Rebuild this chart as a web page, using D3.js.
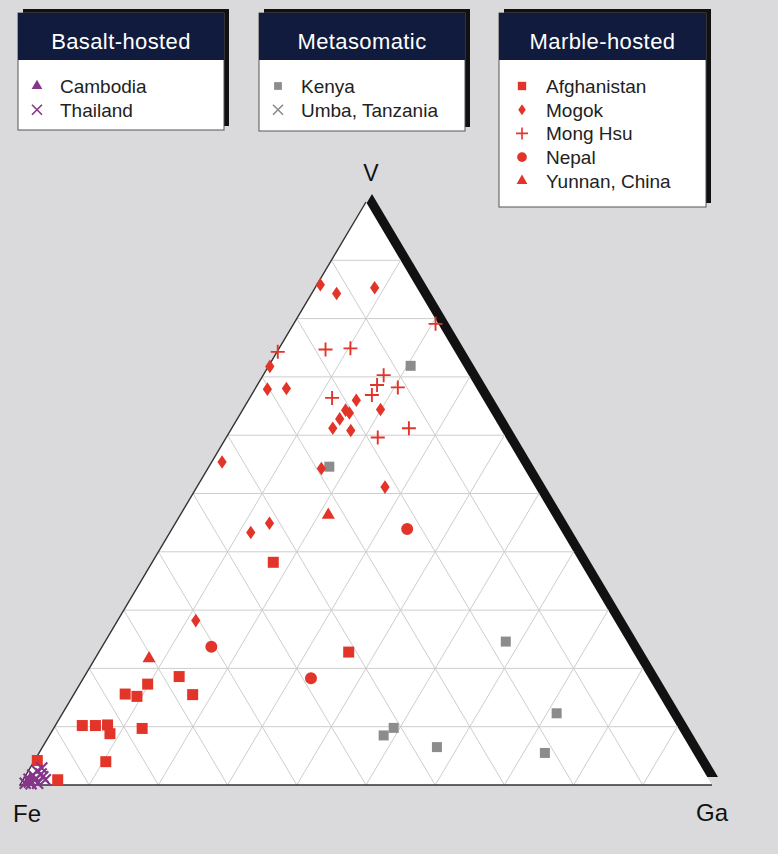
<!DOCTYPE html>
<html>
<head>
<meta charset="utf-8">
<script src="https://cdn.jsdelivr.net/npm/d3@7"></script>
<style>
html, body { margin: 0; padding: 0; background: #dadadc; }
svg { display: block; }
text { font-family: "Liberation Sans", Arial, Helvetica, sans-serif; }
</style>
</head>
<body>
<svg id="chart" width="778" height="854"></svg>
<script>
// ternary values, each point is [V %, Ga %]  (Fe % = 100 - V - Ga)
var cambodia = [[1.2, 0.9], [0.5, 0.8]];
var thailand = [[0.3, 0.6], [1.0, 0.8], [1.7, 1.0], [2.4, 1.3], [2.9, 1.7], [0.9, 3.2],
    [0.3, 2.4], [0.2, 1.5], [1.0, 1.7], [1.9, 2.1], [0.5, 1.1], [1.4, 2.6]];
var kenya = [[71.9, 20.5], [54.6, 17.4], [24.6, 57.9], [12.3, 71.4], [9.8, 49.1],
    [8.5, 48.3], [6.5, 57.0], [5.5, 73.1]];
var umba = [];
var afghanistan = [[38.2, 17.5], [22.8, 36.1], [18.6, 13.7], [17.3, 9.8], [15.6, 7.4],
    [15.2, 9.3], [15.5, 17.2], [10.2, 3.9], [10.2, 5.8], [10.3, 7.5], [8.8, 8.6],
    [9.7, 12.8], [4.0, 10.4], [4.2, 0.4], [0.9, 5.0]];
var mogok = [[85.8, 0.5], [84.3, 3.6], [85.3, 8.6], [71.8, 0.2], [67.9, 1.8], [68.0, 4.5],
    [66.0, 15.6], [64.3, 14.9], [63.8, 15.7], [62.8, 14.8], [64.4, 19.9], [61.2, 14.6],
    [60.8, 17.4], [55.4, 1.5], [54.3, 16.4], [51.1, 27.2], [44.9, 13.6], [43.3, 11.7],
    [28.2, 11.3]];
var mongHsu = [[79.1, 20.5], [74.3, 0.1], [74.7, 6.8], [74.9, 10.3], [70.3, 17.4],
    [68.6, 17.3], [68.2, 20.5], [66.9, 17.4], [66.4, 11.9], [61.2, 25.6], [59.6, 21.9]];
var nepal = [[43.9, 34.0], [23.7, 15.8], [18.3, 32.9]];
var yunnan = [[46.3, 21.4], [21.7, 7.8]];

var gridSteps = [10, 20, 30, 40, 50, 60, 70, 80, 90];
var groupTitles = ["Basalt-hosted", "Metasomatic", "Marble-hosted"];
var basaltNames = ["Cambodia", "Thailand"];
var metaNames = ["Kenya", "Umba, Tanzania"];
var marbleNames = ["Afghanistan", "Mogok", "Mong Hsu", "Nepal", "Yunnan, China"];

var RED = "#e3342a", GRAY = "#8c8c8c", PURPLE = "#85358a";

var svg = d3.select("#chart");

// triangle frame
var y = d3.scaleLinear().domain([0, 100]).range([785, 202]);
var x = d3.scaleLinear().domain([0, 100]).range([20, 712]);
function px(d) { return x(d[1] + d[0] / 2); }
function py(d) { return y(d[0]); }

var corners = [[0, 0], [0, 100], [100, 0]]; // Fe, Ga, V
var triPath = "M" + corners.map(function (d) { return px(d) + "," + py(d); }).join("L") + "Z";

// drop shadow on the right edge
svg.append("path")
    .attr("d", triPath)
    .attr("transform", "translate(6,-8)")
    .attr("fill", "#111");

svg.append("path")
    .attr("d", triPath)
    .attr("fill", "#fff");

// grid lines
var gridLines = [];
gridSteps.forEach(function (k) {
    gridLines.push([[k, 0], [k, 100 - k]]);       // V constant
    gridLines.push([[0, k], [100 - k, k]]);       // Ga constant
    gridLines.push([[0, 100 - k], [100 - k, 0]]); // Fe constant
});

svg.append("g")
    .selectAll("line")
    .data(gridLines)
    .enter()
    .append("line")
    .attr("x1", function (d) { return px(d[0]); })
    .attr("y1", function (d) { return py(d[0]); })
    .attr("x2", function (d) { return px(d[1]); })
    .attr("y2", function (d) { return py(d[1]); })
    .attr("stroke", "#cdcdcd")
    .attr("stroke-width", 1);

// left and bottom edges
svg.append("path")
    .attr("d", "M" + px(corners[2]) + "," + py(corners[2]) + "L" + px(corners[0]) + "," + py(corners[0]) +
        "L" + px(corners[1]) + "," + py(corners[1]))
    .attr("fill", "none")
    .attr("stroke", "#333")
    .attr("stroke-width", 1.4);

// corner labels
svg.append("text").attr("x", px(corners[2]) + 5).attr("y", 181).attr("text-anchor", "middle")
    .style("font-size", "23px").attr("fill", "#111").text("V");
svg.append("text").attr("x", 13).attr("y", 822)
    .style("font-size", "24px").attr("fill", "#111").text("Fe");
svg.append("text").attr("x", 696).attr("y", 821)
    .style("font-size", "24px").attr("fill", "#111").text("Ga");

// marker shapes
var symbolTypes = { square: d3.symbolSquare, circle: d3.symbolCircle, triangle: d3.symbolTriangle };

function markPath(kind, r) {
    if (kind === "plus") return "M" + (-r) + ",0H" + r + "M0," + (-r) + "V" + r;
    if (kind === "times") return "M" + (-r) + "," + (-r) + "L" + r + "," + r + "M" + (-r) + "," + r + "L" + r + "," + (-r);
    if (kind === "diamond") return "M0," + (-r) + "L" + (r * 0.68) + ",0L0," + r + "L" + (-r * 0.68) + ",0Z";
    return d3.symbol().type(symbolTypes[kind]).size(r)();
}

function styleMark(sel, kind, color, sw) {
    if (kind === "plus" || kind === "times") {
        sel.attr("fill", "none").attr("stroke", color).attr("stroke-width", sw);
    } else {
        sel.attr("fill", color);
    }
}

var series = [
    { data: kenya, kind: "square", color: GRAY, size: 100, legend: 60, sw: 1.8 },
    { data: umba, kind: "times", color: GRAY, size: 5, legend: 5, sw: 1.6 },
    { data: afghanistan, kind: "square", color: RED, size: 121, legend: 70, sw: 1.8 },
    { data: mogok, kind: "diamond", color: RED, size: 6.8, legend: 5.5, sw: 1.8 },
    { data: mongHsu, kind: "plus", color: RED, size: 7, legend: 6, sw: 1.9 },
    { data: nepal, kind: "circle", color: RED, size: 113, legend: 75, sw: 1.8 },
    { data: yunnan, kind: "triangle", color: RED, size: 75, legend: 50, sw: 1.8 },
    { data: thailand, kind: "times", color: PURPLE, size: 5.5, legend: 5, sw: 2.1 },
    { data: cambodia, kind: "triangle", color: PURPLE, size: 60, legend: 50, sw: 1.8 }
];

series.forEach(function (s) {
    var marks = svg.append("g")
        .selectAll("path")
        .data(s.data)
        .enter()
        .append("path")
        .attr("d", markPath(s.kind, s.size))
        .attr("transform", function (d) { return "translate(" + px(d) + "," + py(d) + ")"; });
    styleMark(marks, s.kind, s.color, s.sw);
});

// legend boxes
var boxes = [
    { x: 18, w: 206, h: 117, mx: 19, tx: 42, names: basaltNames, series: [8, 7] },
    { x: 259, w: 206, h: 118, mx: 19, tx: 42, names: metaNames, series: [0, 1] },
    { x: 499, w: 207, h: 194, mx: 23, tx: 47, names: marbleNames, series: [2, 3, 4, 5, 6] }
];
var boxTop = 13, headH = 47;

boxes.forEach(function (b, i) {
    var g = svg.append("g");
    g.append("rect").attr("x", b.x + 5).attr("y", boxTop - 4).attr("width", b.w).attr("height", b.h)
        .attr("fill", "#111");
    g.append("rect").attr("x", b.x).attr("y", boxTop).attr("width", b.w).attr("height", b.h)
        .attr("fill", "#fff").attr("stroke", "#555").attr("stroke-width", 1);
    g.append("rect").attr("x", b.x).attr("y", boxTop).attr("width", b.w).attr("height", headH)
        .attr("fill", "#101b3d");
    g.append("text").attr("x", b.x + b.w / 2).attr("y", boxTop + 36)
        .attr("text-anchor", "middle").attr("fill", "#fff")
        .style("font-size", "22px").style("letter-spacing", "0.4px")
        .text(groupTitles[i]);

    b.names.forEach(function (name, j) {
        var s = series[b.series[j]];
        var cy = 86 + j * 23.7;
        var m = g.append("path")
            .attr("d", markPath(s.kind, s.legend))
            .attr("transform", "translate(" + (b.x + b.mx) + "," + cy + ")");
        styleMark(m, s.kind, s.color, 1.6);
        g.append("text").attr("x", b.x + b.tx).attr("y", cy + 7)
            .attr("fill", "#222").style("font-size", "19px")
            .text(name);
    });
});
</script>
</body>
</html>
